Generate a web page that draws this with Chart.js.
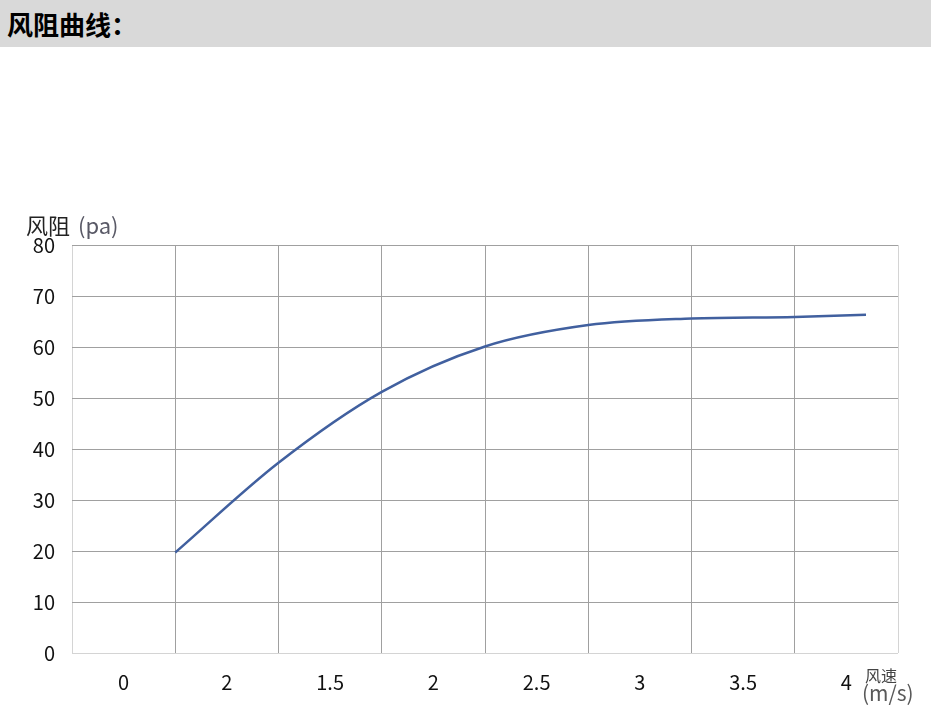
<!DOCTYPE html>
<html><head><meta charset="utf-8">
<script src="https://cdn.jsdelivr.net/npm/chart.js@4/dist/chart.umd.min.js"></script>
<style>
html,body{margin:0;padding:0;background:#fff;width:931px;height:713px;overflow:hidden}
#hdr{height:47px;background:#d9d9d9;font-family:"Noto Sans CJK SC",sans-serif;font-weight:bold;font-size:26px;line-height:47px;padding-left:7px;color:#000}
#wrap{position:relative;width:931px;height:666px}
</style></head><body>
<div id="hdr">风阻曲线：</div>
<div id="wrap"><canvas id="c" width="931" height="666"></canvas></div>
<script>
const categories = ["0","2","1.5","2","2.5","3","3.5","4"];
const speedPos = [1, 2, 3, 4, 5, 6, 7, 7.69];
const resistance = [19.7, 37.3, 51.2, 60.1, 64.3, 65.6, 65.9, 66.3];
const yTicks = [0,10,20,30,40,50,60,70,80];

const titles = {
  id:'titles',
  afterDraw(chart){
    const ctx = chart.ctx;
    ctx.save();
    ctx.textBaseline='middle';
    ctx.textAlign='left';
    ctx.fillStyle='#222';
    ctx.font='22px "Noto Sans CJK SC"';
    ctx.fillText('风阻', 26, 179);
    ctx.fillStyle='#595966';
    ctx.font='22px "Noto Sans CJK SC"';
    ctx.fillText('(pa)', 78, 179);
    ctx.fillStyle='#444';
    ctx.font='16px "Noto Sans CJK SC"';
    ctx.fillText('风速', 865, 629);
    ctx.fillStyle='#595959';
    ctx.font='21px "Noto Sans CJK SC"';
    ctx.fillText('(m/s)', 862, 646);
    ctx.restore();
  }
};

new Chart(document.getElementById('c'), {
  type:'scatter',
  data:{datasets:[{
    data: speedPos.map((x,i)=>({x, y: resistance[i]})),
    showLine:true,
    borderColor:'#41609f',
    borderWidth:2.5,
    pointRadius:0,
    cubicInterpolationMode:'monotone',
    fill:false
  }]},
  options:{
    responsive:false,
    animation:false,
    layout:{padding:{top:198,right:33,left:0,bottom:0}},
    plugins:{legend:{display:false},tooltip:{enabled:false}},
    scales:{
      x:{
        type:'linear', min:0, max:categories.length,
        border:{display:false},
        afterBuildTicks(s){
          const t=[];
          for(let i=0;i<=categories.length*2;i++) t.push({value:i/2});
          s.ticks=t;
        },
        afterFit(s){ s.height=60; },
        grid:{
          drawTicks:false,
          lineWidth:1,
          color(ctx){
            const v=ctx.tick?ctx.tick.value:0;
            if(Math.abs(v-Math.round(v))>1e-6) return 'rgba(0,0,0,0)';
            if(v===0||v===categories.length) return '#d4d4d4';
            return '#a0a0a0';
          }
        },
        ticks:{
          padding:17,
          autoSkip:false,
          maxRotation:0,
          color:'#111',
          font:{family:'"Noto Sans CJK SC"', size:20},
          callback(v){
            if(Math.abs(v-Math.round(v))<1e-6) return '';
            return categories[Math.floor(v)];
          }
        }
      },
      y:{
        min:0,max:80,
        border:{display:false},
        afterBuildTicks(s){ s.ticks=yTicks.map(v=>({value:v})); },
        afterFit(s){ s.width=72; },
        grid:{
          drawTicks:false,
          color(ctx){
            const v=ctx.tick?ctx.tick.value:0;
            if(v===0) return '#d4d4d4';
            return '#a0a0a0';
          }
        },
        ticks:{
          padding:17,
          color:'#111',
          font:{family:'"Noto Sans CJK SC"', size:20}
        }
      }
    }
  },
  plugins:[titles]
});
</script>
</body></html>
